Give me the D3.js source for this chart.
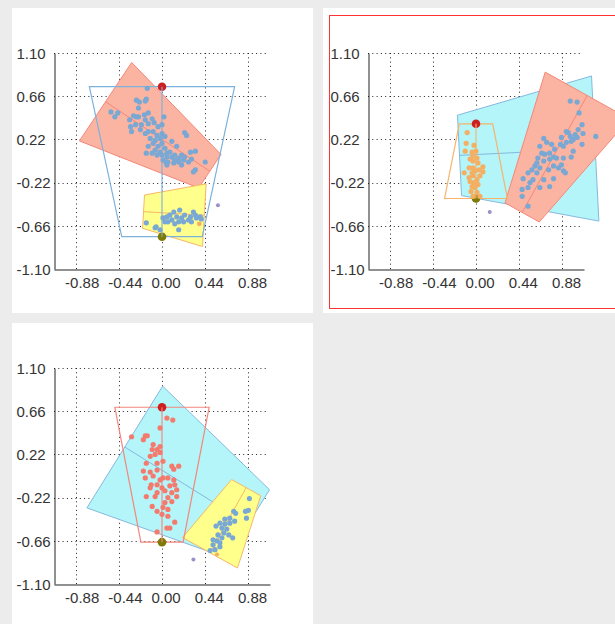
<!DOCTYPE html>
<html>
<head>
<meta charset="utf-8">
<script src="https://cdn.jsdelivr.net/npm/d3@7"></script>
<style>
  html, body { margin: 0; padding: 0; background: #ececec; }
  svg { display: block; }
  text { font-family: "Liberation Sans", Arial, sans-serif; font-size: 15px; fill: #333; }
</style>
</head>
<body>
<svg id="chart" width="615" height="624"></svg>
<script>
// Axis ticks shared by all three projection views
const ticksX = [-0.88, -0.44, 0.00, 0.44, 0.88];
const ticksY = [1.10, 0.66, 0.22, -0.22, -0.66, -1.10];
const gridY = [1.10, 0.66, 0.22, -0.22, -0.66];
const extent = [-1.10, 1.10];

// Cluster glyphs: [x1, y1, halfWidth1, x2, y2, halfWidth2] along the cluster axis
const p1GlyphA = [-0.575, 0.604, 0.48, 0.487, -0.104, 0.205];   // salmon
const p1GlyphB = [-0.188, -0.516, 0.17, 0.431, -0.552, 0.32];   // yellow
const p1GlyphC = [0.00, 0.757, 0.74, 0.00, -0.771, 0.41];       // selected (blue)
const p2GlyphA = [-0.168, 0.057, 0.41, 1.214, 0.127, 0.74];     // cyan
const p2GlyphB = [0.470, -0.524, 0.20, 1.133, 0.667, 0.49];     // salmon
const p2GlyphC = [0.00, 0.379, 0.17, 0.00, -0.382, 0.32];       // selected (orange)
const p3GlyphA = [-0.379, 0.295, 0.73, 0.879, -0.488, 0.41];    // cyan
const p3GlyphB = [0.857, -0.119, 0.17, 0.489, -0.782, 0.32];    // yellow
const p3GlyphC = [0.00, 0.700, 0.48, 0.00, -0.674, 0.215];      // selected (red)

// Projected samples
const p1PointsA = [[-0.15,0.74],[-0.23,0.60],[-0.16,0.63],[-0.52,0.50],[-0.45,0.49],[-0.48,0.45],[-0.24,0.54],[-0.14,0.49],[-0.18,0.47],[-0.26,0.45],[-0.33,0.42],[-0.29,0.46],[-0.24,0.45],[-0.32,0.35],[-0.27,0.37],[-0.21,0.37],[-0.17,0.42],[-0.10,0.43],[-0.14,0.38],[-0.08,0.39],[-0.04,0.35],[0.02,0.45],[0.00,0.37],[-0.17,0.28],[-0.14,0.30],[-0.22,0.32],[-0.31,0.30],[-0.09,0.30],[-0.05,0.26],[0.00,0.28],[-0.02,0.23],[-0.07,0.21],[-0.12,0.23],[-0.09,0.18],[0.00,0.18],[-0.04,0.15],[0.03,0.13],[-0.07,0.11],[-0.14,0.15],[-0.16,0.08],[-0.02,0.09],[0.05,0.08],[0.08,0.09],[0.10,0.04],[0.13,0.06],[0.17,0.03],[0.20,0.06],[0.06,-0.01],[0.12,-0.02],[0.17,-0.01],[0.22,0.01],[0.27,-0.01],[0.23,0.04],[0.29,0.09],[0.34,0.10],[0.23,0.29],[0.25,0.26],[0.15,0.15],[0.10,0.20],[0.03,0.25],[0.01,0.01],[0.05,-0.04],[0.20,-0.04],[0.34,-0.09],[0.32,-0.11],[0.44,-0.01],[0.05,0.04],[0.13,0.01],[0.00,0.06],[-0.05,0.06],[-0.10,0.08],[0.30,0.02],[-0.17,0.61],[-0.26,0.62],[0.04,-0.01]];
const p1PointsB = [[-0.16,-0.63],[-0.06,-0.67],[-0.02,-0.70],[0.01,-0.58],[0.05,-0.57],[0.06,-0.62],[0.10,-0.60],[0.12,-0.52],[0.15,-0.57],[0.17,-0.62],[0.18,-0.50],[0.20,-0.58],[0.23,-0.55],[0.27,-0.60],[0.29,-0.57],[0.32,-0.52],[0.34,-0.55],[0.35,-0.58],[0.39,-0.57],[0.40,-0.59],[0.17,-0.70],[0.08,-0.55],[0.03,-0.62],[0.13,-0.64],[0.22,-0.62],[0.30,-0.62],[-0.07,-0.68]];
const p1Orange = [[0.38,-0.64]];
const p1Purple = [[0.57,-0.45]];

const p2PointsA = [[-0.09,0.29],[-0.10,0.18],[-0.02,0.16],[-0.11,0.10],[-0.04,0.09],[0.00,0.10],[-0.06,0.02],[-0.03,0.00],[0.01,0.03],[0.02,-0.02],[-0.07,-0.07],[-0.03,-0.07],[0.07,-0.06],[-0.12,-0.12],[-0.04,-0.12],[-0.01,-0.10],[0.07,-0.11],[-0.03,-0.15],[0.01,-0.19],[-0.06,-0.21],[-0.04,-0.26],[-0.01,-0.27],[0.02,-0.24],[-0.05,-0.31],[0.01,-0.32],[-0.03,-0.36],[0.04,-0.36],[-0.07,-0.17],[0.04,-0.15],[-0.03,0.05],[0.03,-0.09],[-0.02,-0.22]];
const p2PointsB = [[0.96,0.61],[1.03,0.60],[1.05,0.49],[1.22,0.25],[1.08,0.37],[1.04,0.32],[1.09,0.28],[0.92,0.30],[0.96,0.25],[1.01,0.27],[0.99,0.22],[1.03,0.24],[0.97,0.20],[0.87,0.24],[0.86,0.17],[0.89,0.15],[0.69,0.23],[0.72,0.19],[0.65,0.15],[0.77,0.17],[0.80,0.12],[0.99,0.10],[0.75,0.08],[0.79,0.04],[0.70,0.07],[0.63,0.03],[0.67,0.08],[0.82,0.03],[0.89,0.03],[0.97,0.04],[0.60,-0.05],[0.57,-0.09],[0.65,-0.07],[0.79,-0.05],[0.87,-0.04],[0.89,-0.10],[0.69,0.00],[0.62,-0.12],[0.53,-0.12],[0.48,-0.18],[0.58,-0.19],[0.69,-0.19],[0.79,-0.18],[0.55,-0.22],[0.53,-0.27],[0.65,-0.27],[0.75,-0.26],[0.47,-0.29],[0.47,-0.36],[0.53,-0.46],[0.91,-0.12],[0.84,-0.07],[0.74,-0.09],[0.62,-0.02],[0.75,0.02],[0.92,0.19],[0.94,0.29],[1.08,0.17]];
const p2Purple = [[0.14,-0.52]];

const p3PointsA = [[0.05,0.59],[0.11,0.57],[-0.02,0.49],[-0.31,0.40],[-0.19,0.37],[-0.15,0.41],[-0.09,0.32],[-0.10,0.27],[-0.05,0.27],[-0.02,0.30],[-0.12,0.20],[-0.07,0.22],[-0.02,0.24],[-0.16,0.13],[-0.05,0.13],[0.01,0.15],[0.10,0.10],[0.17,0.10],[-0.19,0.05],[-0.12,0.04],[-0.05,0.06],[0.01,-0.02],[-0.02,-0.04],[0.06,-0.02],[0.12,-0.04],[-0.17,-0.02],[-0.11,-0.09],[-0.05,-0.09],[0.00,-0.12],[0.08,-0.10],[0.15,-0.14],[0.10,-0.17],[-0.16,-0.21],[-0.07,-0.21],[0.06,-0.22],[0.15,-0.21],[0.03,-0.27],[0.10,-0.26],[-0.10,-0.31],[0.01,-0.32],[0.06,-0.34],[-0.05,-0.36],[0.00,-0.39],[0.06,-0.41],[0.08,-0.53],[0.05,-0.53],[0.13,-0.47],[0.12,0.07],[-0.09,0.00],[0.03,-0.15],[0.13,-0.09],[-0.05,-0.17],[-0.12,-0.12],[-0.05,-0.57],[-0.17,0.41]];
const p3PointsB = [[0.89,-0.23],[0.88,-0.35],[0.85,-0.36],[0.86,-0.43],[0.73,-0.36],[0.75,-0.38],[0.69,-0.43],[0.74,-0.46],[0.69,-0.48],[0.59,-0.48],[0.64,-0.49],[0.55,-0.51],[0.61,-0.53],[0.66,-0.54],[0.63,-0.58],[0.57,-0.60],[0.72,-0.63],[0.61,-0.63],[0.52,-0.65],[0.56,-0.66],[0.59,-0.68],[0.52,-0.70],[0.59,-0.72],[0.54,-0.75],[0.49,-0.76],[0.68,-0.60],[0.64,-0.44]];
const p3Orange = [[0.56,-0.80]];
const p3Purple = [[0.32,-0.85]];

// Palette
const C = {
  salmonFill: "#fab4a1", salmonStroke: "#f4877a",
  yellowFill: "#ffff8c", yellowStroke: "#f7b868",
  cyanFill: "#b3f5f8", cyanStroke: "#86b8de",
  blueLine: "#7db2dc", orangeLine: "#f6b46c", redLine: "#f4877c",
  bluePt: "#79a8d4", orangePt: "#f5af62", redPt: "#f47a6e",
  purplePt: "#9c90c9", topDot: "#cc1f1f", bottomDot: "#7d7a05",
  grid: "#222", axis: "#222", selectedFrame: "#ff3333"
};

const SIZE = 216;
const svg = d3.select("#chart");
const fmt = d => d.toFixed(2);

function glyphCorners(s) {
  const [x1, y1, w1, x2, y2, w2] = s;
  const dx = x2 - x1, dy = y2 - y1, L = Math.hypot(dx, dy);
  const nx = -dy / L, ny = dx / L;
  return [[x1 + nx * w1, y1 + ny * w1], [x2 + nx * w2, y2 + ny * w2],
          [x2 - nx * w2, y2 - ny * w2], [x1 - nx * w1, y1 - ny * w1]];
}

function drawPanel(cfg) {
  const g = svg.append("g");
  g.append("rect").attr("x", cfg.bg[0]).attr("y", cfg.bg[1])
    .attr("width", cfg.bg[2]).attr("height", cfg.bg[3]).attr("fill", "#fff");

  const x = d3.scaleLinear().domain(extent).range([cfg.ox, cfg.ox + SIZE]);
  const y = d3.scaleLinear().domain(extent).range([cfg.oy + SIZE, cfg.oy]);
  const px = v => Math.round(x(v)) + 0.5, py = v => Math.round(y(v)) + 0.5;

  // dotted grid
  g.selectAll(null).data(ticksX).join("line")
    .attr("x1", px).attr("x2", px).attr("y1", y(extent[1])).attr("y2", y(extent[0]))
    .attr("stroke", C.grid).attr("stroke-width", 1).attr("stroke-dasharray", "1,3.3");
  g.selectAll(null).data(gridY).join("line")
    .attr("y1", py).attr("y2", py).attr("x1", x(extent[0])).attr("x2", x(extent[1]) - 3)
    .attr("stroke", C.grid).attr("stroke-width", 1).attr("stroke-dasharray", "1,3.3");

  const line = d3.line().x(d => x(d[0])).y(d => y(d[1]));

  // filled cluster glyphs with their axis
  cfg.filled.forEach(f => {
    g.append("path").attr("d", line(glyphCorners(f.s)) + "Z")
      .attr("fill", f.fill).attr("stroke", f.stroke).attr("stroke-width", 1);
    g.append("path").attr("d", line([[f.s[0], f.s[1]], [f.s[3], f.s[4]]]))
      .attr("fill", "none").attr("stroke", f.stroke).attr("stroke-width", 1);
  });

  // selected cluster: outline glyph
  const sel = cfg.selected;
  g.append("path").attr("d", line(glyphCorners(sel.s)) + "Z")
    .attr("fill", "none").attr("stroke", sel.stroke).attr("stroke-width", 1.2);
  g.append("circle").attr("cx", x(sel.s[0])).attr("cy", y(sel.s[1])).attr("r", 4.3)
    .attr("fill", C.topDot);
  g.append("circle").attr("cx", x(sel.s[3])).attr("cy", y(sel.s[4])).attr("r", 4.3)
    .attr("fill", C.bottomDot);
  g.append("path").attr("d", line([[sel.s[0], sel.s[1]], [sel.s[3], sel.s[4]]]))
    .attr("fill", "none").attr("stroke", sel.stroke).attr("stroke-width", 1.5)
    .attr("stroke-opacity", 0.75);

  // samples
  cfg.points.forEach(p => {
    g.selectAll(null).data(p.data).join("circle")
      .attr("cx", d => x(d[0])).attr("cy", d => y(d[1])).attr("r", p.r)
      .attr("fill", p.color);
  });

  // axes
  const yAxis = g.append("g").attr("transform", `translate(${Math.round(x(extent[0])) + 0.5},0)`)
    .call(d3.axisLeft(y).tickValues(ticksY).tickFormat(fmt).tickSize(0).tickSizeOuter(0));
  yAxis.select(".domain").attr("stroke", C.axis);
  yAxis.selectAll("text").attr("text-anchor", "start").attr("x", -38).attr("dy", "0.35em")
    .attr("fill", "#333").style("font-size", "15px").style("font-family", "'Liberation Sans', Arial, sans-serif");

  const xAxis = g.append("g").attr("transform", `translate(0,${Math.round(y(extent[0])) + 0.5})`)
    .call(d3.axisBottom(x).tickValues(ticksX).tickFormat(fmt).tickSize(0).tickSizeOuter(0));
  xAxis.select(".domain").attr("stroke", C.axis);
  xAxis.selectAll("text").attr("text-anchor", "start").attr("x", -11).attr("y", 18).attr("dy", 0)
    .attr("fill", "#333").style("font-size", "15px").style("font-family", "'Liberation Sans', Arial, sans-serif");

  // frame of the active view, drawn last so nothing covers it
  if (cfg.border) {
    g.append("rect").attr("x", cfg.border[0]).attr("y", cfg.border[1])
      .attr("width", cfg.border[2]).attr("height", cfg.border[3])
      .attr("shape-rendering", "crispEdges")
      .style("fill", "none").style("stroke", C.selectedFrame).style("stroke-width", "1px");
  }
}

drawPanel({
  bg: [12, 8, 301, 305], ox: 54, oy: 53,
  filled: [
    { s: p1GlyphA, fill: C.salmonFill, stroke: C.salmonStroke },
    { s: p1GlyphB, fill: C.yellowFill, stroke: C.yellowStroke }
  ],
  selected: { s: p1GlyphC, stroke: C.blueLine },
  points: [
    { data: p1PointsA, color: C.bluePt, r: 2.6 },
    { data: p1PointsB, color: C.bluePt, r: 2.6 },
    { data: p1Orange, color: C.orangePt, r: 2.4 },
    { data: p1Purple, color: C.purplePt, r: 2 }
  ]
});

drawPanel({
  bg: [323, 8, 292, 305], border: [329, 15, 330, 293], ox: 368, oy: 53,
  filled: [
    { s: p2GlyphA, fill: C.cyanFill, stroke: C.cyanStroke },
    { s: p2GlyphB, fill: C.salmonFill, stroke: C.salmonStroke }
  ],
  selected: { s: p2GlyphC, stroke: C.orangeLine },
  points: [
    { data: p2PointsA, color: C.orangePt, r: 2.6 },
    { data: p2PointsB, color: C.bluePt, r: 2.6 },
    { data: p2Purple, color: C.purplePt, r: 2 }
  ]
});

drawPanel({
  bg: [12, 323, 301, 301], ox: 54, oy: 368,
  filled: [
    { s: p3GlyphA, fill: C.cyanFill, stroke: C.cyanStroke },
    { s: p3GlyphB, fill: C.yellowFill, stroke: C.yellowStroke }
  ],
  selected: { s: p3GlyphC, stroke: C.redLine },
  points: [
    { data: p3PointsA, color: C.redPt, r: 2.6 },
    { data: p3PointsB, color: C.bluePt, r: 2.6 },
    { data: p3Orange, color: C.orangePt, r: 2 },
    { data: p3Purple, color: C.purplePt, r: 2 }
  ]
});
</script>
</body>
</html>
